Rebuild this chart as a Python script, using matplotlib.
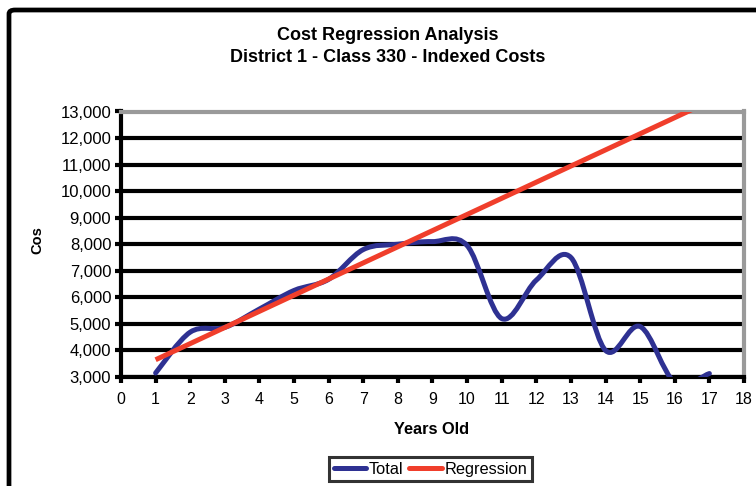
import matplotlib
matplotlib.use("Agg")
import matplotlib.pyplot as plt
from matplotlib.path import Path
from matplotlib.patches import PathPatch, FancyBboxPatch
from matplotlib.lines import Line2D
from matplotlib.ticker import FuncFormatter, MultipleLocator

plt.rcParams['font.family'] = ['Liberation Sans', 'DejaVu Sans']

# Data
years = [1, 2, 3, 4, 5, 6, 7, 8, 9, 10, 11, 12, 13, 14, 15, 16, 17]
total = [3150, 4690, 4870, 5560, 6260, 6680, 7800, 8000, 8100, 7950,
         5200, 6650, 7500, 4000, 4900, 2800, 3130]
regression = [3650, 4258, 4866, 5474, 6082, 6690, 7298, 7906, 8514, 9122,
              9730, 10338, 10946, 11554, 12162, 12770, 13378]

title_lines = ["Cost Regression Analysis", "District 1 - Class 330 - Indexed Costs"]
x_label = "Years Old"
y_label = "Cos"
series_names = ["Total", "Regression"]

blue = "#2E3192"
red = "#F03E2B"

W, H = 756, 486
fig = plt.figure(figsize=(W / 100, H / 100), dpi=100)
fig.patch.set_facecolor("white")

# Outer chart frame (runs off the right and bottom edges)
frame = FancyBboxPatch((9 / W, -0.2), 1.2, 1.2 - 10 / H,
                       boxstyle="round,pad=0,rounding_size=0.008",
                       transform=fig.transFigure, facecolor="none",
                       edgecolor="black", linewidth=3.4, zorder=0)
fig.patches.append(frame)

ax = fig.add_axes([121 / W, 1 - 377 / H, (744 - 121) / W, (377 - 111.5) / H])
ax.set_xlim(0, 18)
ax.set_ylim(3000, 13000)


def smooth_path(xs, ys):
    """Cubic Bezier path through the points (Catmull-Rom style smoothing)."""
    n = len(xs)
    verts = [(xs[0], ys[0])]
    codes = [Path.MOVETO]
    for i in range(n - 1):
        i0 = max(i - 1, 0)
        i3 = min(i + 2, n - 1)
        c1 = (xs[i] + (xs[i + 1] - xs[i0]) / 6, ys[i] + (ys[i + 1] - ys[i0]) / 6)
        c2 = (xs[i + 1] - (xs[i3] - xs[i]) / 6, ys[i + 1] - (ys[i3] - ys[i]) / 6)
        verts += [c1, c2, (xs[i + 1], ys[i + 1])]
        codes += [Path.CURVE4] * 3
    return Path(verts, codes)


ax.add_patch(PathPatch(smooth_path(years, total), facecolor="none",
                       edgecolor=blue, linewidth=3.6, capstyle="round",
                       joinstyle="round", zorder=3))
ax.plot(years, regression, color=red, linewidth=3.6, solid_capstyle="butt", zorder=4)

# Horizontal grid
ax.yaxis.set_major_locator(MultipleLocator(1000))
ax.xaxis.set_major_locator(MultipleLocator(1))
ax.grid(axis="y", color="black", linewidth=3.0, zorder=1)
ax.set_axisbelow(True)

ax.yaxis.set_major_formatter(FuncFormatter(lambda v, p: f"{int(v):,}"))

for side in ("left", "bottom"):
    ax.spines[side].set_color("black")
    ax.spines[side].set_linewidth(3.0)
for side in ("top", "right"):
    ax.spines[side].set_color("#9A9A9A")
    ax.spines[side].set_linewidth(3.0)

ax.tick_params(axis="both", direction="out", length=4, width=3.0, color="black")
ax.tick_params(axis="y", pad=3, labelsize=12)
ax.tick_params(axis="x", pad=7, labelsize=11.5)

fig.text(388 / W, 1 - 35 / H, title_lines[0], ha="center", va="center",
         fontsize=13, fontweight="bold")
fig.text(388 / W, 1 - 58 / H, title_lines[1], ha="center", va="center",
         fontsize=13, fontweight="bold")

fig.text(432 / W, 1 - 429 / H, x_label, ha="center", va="center",
         fontsize=11.8, fontweight="bold")
fig.text(37 / W, 1 - 240 / H, y_label, ha="center", va="center",
         fontsize=10.5, fontweight="bold", rotation=90)

handles = [Line2D([], [], color=blue, linewidth=3.6, solid_capstyle="round"),
           Line2D([], [], color=red, linewidth=3.6, solid_capstyle="round")]
leg = fig.legend(handles, series_names, loc="center",
                 bbox_to_anchor=(430.5 / W, 1 - 469 / H), ncol=2,
                 fontsize=11.8, frameon=True, fancybox=False,
                 handlelength=2.0, handletextpad=0.15, columnspacing=0.35,
                 borderpad=0.3, borderaxespad=0)
leg.get_frame().set_edgecolor("black")
leg.get_frame().set_linewidth(2.2)

fig.savefig("out.png", dpi=100, facecolor="white")
